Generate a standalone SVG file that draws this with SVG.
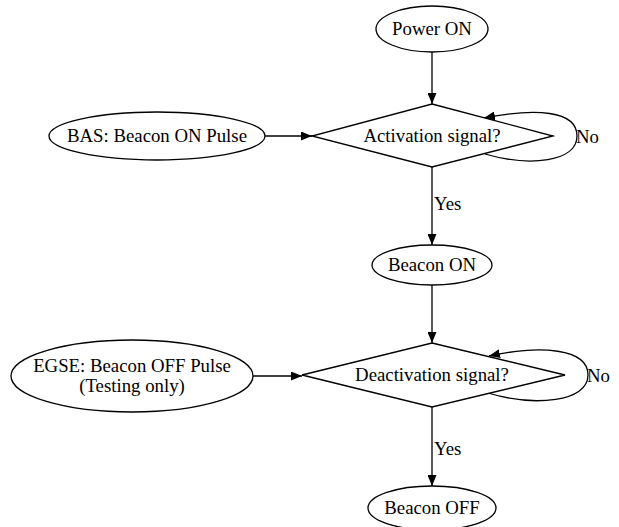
<svg xmlns="http://www.w3.org/2000/svg" width="619" height="527" viewBox="0 0 619 527">
<style>
.n{fill:#fff;stroke:#000;stroke-width:1.3}
.e{fill:none;stroke:#000;stroke-width:1.3}
text{font-family:"Liberation Serif","Times New Roman",serif;font-size:18.8px;fill:#000}
.c{text-anchor:middle}
</style>
<defs>
<marker id="a" markerWidth="12" markerHeight="9" refX="11" refY="4.5" orient="auto" markerUnits="userSpaceOnUse">
<path d="M0,0 L11,4.5 L0,9 Z" fill="#000"/>
</marker>
</defs>
<rect width="619" height="527" fill="#fff"/>
<g id="edges">
<path class="e" d="M432,52 L432,104" marker-end="url(#a)"/>
<path class="e" d="M265,136 L312,136" marker-end="url(#a)"/>
<path class="e" d="M485,154 C530,167 577,162 577,136 C577,110 535,108 484,118" marker-end="url(#a)"/>
<path class="e" d="M432,167 L432,245" marker-end="url(#a)"/>
<path class="e" d="M432,285 L432,343" marker-end="url(#a)"/>
<path class="e" d="M253,376 L302,376" marker-end="url(#a)"/>
<path class="e" d="M488,393 C535,407 588,402 588,375 C588,348 540,345 489,356" marker-end="url(#a)"/>
<path class="e" d="M432,407 L432,486" marker-end="url(#a)"/>
<text x="434" y="210">Yes</text>
<text x="576" y="143">No</text>
<text x="434" y="455">Yes</text>
<text x="587" y="382">No</text>
</g>
<g id="power_on">
<ellipse class="n" cx="432" cy="29" rx="56" ry="23"/>
<text class="c" x="432" y="35">Power ON</text>
</g>
<g id="activation">
<polygon class="n" points="432,104 553,136 432,167 312,136"/>
<text class="c" x="432" y="142">Activation signal?</text>
</g>
<g id="bas">
<ellipse class="n" cx="157" cy="136" rx="108" ry="24"/>
<text class="c" x="157" y="142">BAS: Beacon ON Pulse</text>
</g>
<g id="beacon_on">
<ellipse class="n" cx="432" cy="265" rx="60" ry="20"/>
<text class="c" x="432" y="271">Beacon ON</text>
</g>
<g id="deactivation">
<polygon class="n" points="432,343 565,375 432,407 302,375"/>
<text class="c" x="432" y="381">Deactivation signal?</text>
</g>
<g id="egse">
<ellipse class="n" cx="132" cy="376" rx="121" ry="36"/>
<text class="c" x="132" y="372">EGSE: Beacon OFF Pulse</text>
<text class="c" x="132" y="392">(Testing only)</text>
</g>
<g id="beacon_off">
<ellipse class="n" cx="432" cy="508" rx="64" ry="22"/>
<text class="c" x="432" y="514">Beacon OFF</text>
</g>
</svg>
